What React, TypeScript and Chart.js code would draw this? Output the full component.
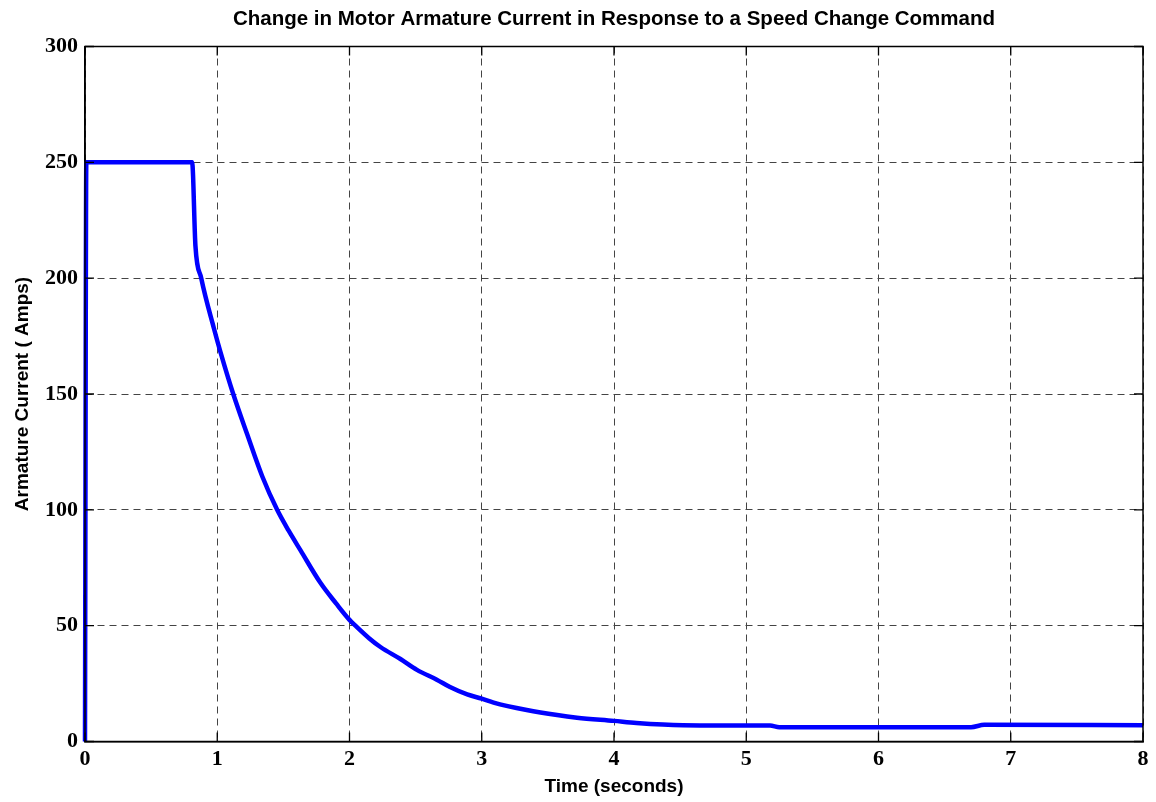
import React, { useEffect, useRef } from "react";
import { Chart, registerables } from "chart.js";

Chart.register(...registerables);

const chartTitle = "Change in Motor Armature Current in Response to a Speed Change Command";
const xAxisTitle = "Time (seconds)";
const yAxisTitle = "Armature Current ( Amps)";

const timeS = [
  0, 0.01, 0.81, 0.835, 0.879, 0.974, 1.025, 1.121, 1.227, 1.34, 1.453, 1.54, 1.63,
  1.78, 1.9, 2.0, 2.045, 2.15, 2.234, 2.385, 2.51, 2.66, 2.76, 2.89, 3.0, 3.09, 3.34,
  3.57, 3.72, 4.0, 4.17, 4.37, 4.65, 5.18, 5.25, 6.7, 6.8, 8.0,
];
const currentA = [
  0, 250, 250, 214, 200, 178.5, 168, 150, 132.5, 114.5, 100, 91, 82.5,
  68.5, 59.5, 52.5, 50, 44.5, 40.8, 35.6, 30.9, 26.7, 23.5, 20.3, 18.5, 16.8, 13.6,
  11.4, 10.3, 8.9, 8.0, 7.3, 6.9, 6.9, 6.2, 6.2, 7.2, 7.0,
];

const xTicks = [0, 1, 2, 3, 4, 5, 6, 7, 8];
const yTicks = [0, 50, 100, 150, 200, 250, 300];

const boxPlugin = {
  id: "matlabBox",
  afterDraw(chart: any) {
    const { ctx, chartArea, scales } = chart;
    const { left, right, top, bottom } = chartArea;
    ctx.save();
    ctx.strokeStyle = "#000";
    ctx.lineWidth = 1.3;
    ctx.setLineDash([]);
    const tl = 9;
    ctx.beginPath();
    for (const v of xTicks) {
      const px = scales.x.getPixelForValue(v);
      ctx.moveTo(px, bottom);
      ctx.lineTo(px, bottom - tl);
      ctx.moveTo(px, top);
      ctx.lineTo(px, top + tl);
    }
    for (const v of yTicks) {
      const py = scales.y.getPixelForValue(v);
      ctx.moveTo(left, py);
      ctx.lineTo(left + tl, py);
      ctx.moveTo(right, py);
      ctx.lineTo(right - tl, py);
    }
    ctx.stroke();
    ctx.lineWidth = 1.5;
    ctx.strokeRect(left, top, right - left, bottom - top);
    ctx.fillStyle = "#000";
    ctx.font = "bold 20.5px 'Liberation Sans', Arial, sans-serif";
    ctx.textAlign = "center";
    ctx.textBaseline = "middle";
    ctx.fillText(chartTitle, (left + right) / 2, 19);
    ctx.restore();
  },
};

export default function App() {
  const canvasRef = useRef<HTMLCanvasElement | null>(null);

  useEffect(() => {
    document.body.style.margin = "0";
    const canvas = canvasRef.current;
    if (!canvas) return;
    const points = timeS.map((t, i) => ({ x: t, y: currentA[i] }));
    const chart = new Chart(canvas, {
      type: "line",
      data: {
        datasets: [
          {
            data: points,
            borderColor: "#0000ff",
            borderWidth: 4.5,
            pointRadius: 0,
            cubicInterpolationMode: "monotone",
            fill: false,
            clip: 4,
          },
        ],
      },
      options: {
        animation: false,
        responsive: false,
        maintainAspectRatio: false,
        layout: { padding: { left: 0, right: 13, top: 46.5, bottom: 0 } },
        plugins: {
          legend: { display: false },
          tooltip: { enabled: false },
          title: { display: false },
        },
        scales: {
          x: {
            type: "linear",
            min: 0,
            max: 8,
            afterBuildTicks: (scale: any) => {
              scale.ticks = xTicks.map((v) => ({ value: v }));
            },
            afterFit: (scale: any) => {
              scale.height = 60.5;
            },
            ticks: {
              color: "#000",
              padding: 5,
              font: { family: "'Liberation Serif', 'Times New Roman', serif", size: 22, weight: "bold", lineHeight: 1.2 },
              maxRotation: 0,
            },
            grid: { color: "#444", lineWidth: 1, drawTicks: false },
            border: { display: true, color: "#000", width: 1.5, dash: [7, 5] },
            title: {
              display: true,
              text: xAxisTitle,
              color: "#000",
              font: { family: "'Liberation Sans', Arial, sans-serif", size: 19, weight: "bold", lineHeight: 1.2 },
              padding: { top: 0, bottom: 4 },
            },
          },
          y: {
            type: "linear",
            min: 0,
            max: 300,
            afterBuildTicks: (scale: any) => {
              scale.ticks = yTicks.map((v) => ({ value: v }));
            },
            afterFit: (scale: any) => {
              scale.width = 85;
            },
            ticks: {
              color: "#000",
              padding: 7,
              font: { family: "'Liberation Serif', 'Times New Roman', serif", size: 22, weight: "bold", lineHeight: 1.2 },
            },
            grid: { color: "#444", lineWidth: 1, drawTicks: false },
            border: { display: true, color: "#000", width: 1.5, dash: [7, 5] },
            title: {
              display: true,
              text: yAxisTitle,
              color: "#000",
              font: { family: "'Liberation Sans', Arial, sans-serif", size: 19, weight: "bold", lineHeight: 1.2 },
              padding: { top: 11.5, bottom: 0 },
            },
          },
        },
      },
      plugins: [boxPlugin],
    });
    return () => chart.destroy();
  }, []);

  return (
    <div style={{ position: "absolute", left: 0, top: 0, width: 1156, height: 802, background: "#fff" }}>
      <canvas ref={canvasRef} width={1156} height={802} style={{ width: 1156, height: 802 }} />
    </div>
  );
}
